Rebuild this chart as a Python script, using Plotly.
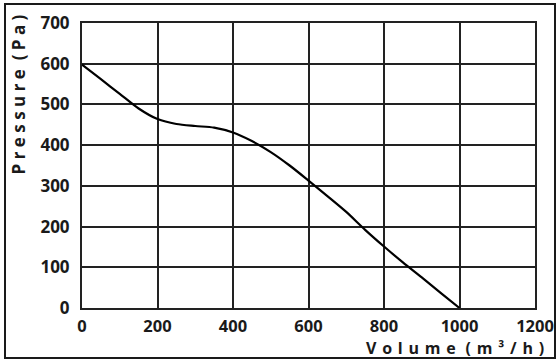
import plotly.graph_objects as go

volume = [0, 50, 100, 150, 200, 250, 300, 350, 400, 450, 500, 550, 600, 650, 700, 750, 800, 850, 900, 950, 1000]
pressure = [598, 562, 526, 490, 464, 452, 447, 443, 431, 410, 383, 350, 313, 275, 236, 192, 151, 112, 75, 37, 0]

x_ticks = [0, 200, 400, 600, 800, 1000, 1200]
y_ticks = [0, 100, 200, 300, 400, 500, 600, 700]

font_family = "Open Sans"
grid_color = "#222222"

fig = go.Figure()
fig.add_trace(go.Scatter(
    x=volume, y=pressure, mode="lines",
    line=dict(color="black", width=2.2, shape="spline", smoothing=0.8),
    hoverinfo="skip", showlegend=False,
))

axis_common = dict(
    showgrid=True, gridcolor=grid_color, gridwidth=2,
    showline=True, linecolor=grid_color, linewidth=2, mirror=True,
    zeroline=False, ticks="",
    automargin=False,
)

fig.update_xaxes(range=[0, 1200], tickvals=x_ticks, ticktext=[str(v) for v in x_ticks],
                 ticklabelstandoff=2,
                 tickfont=dict(family=font_family, size=16.5, color="#1a1a1a", weight="bold"),
                 **axis_common)
fig.update_yaxes(range=[0, 700], tickvals=y_ticks, ticktext=[str(v) for v in y_ticks],
                 ticklabelstandoff=7,
                 tickfont=dict(family=font_family, size=17, color="#1a1a1a", weight="bold"),
                 **axis_common)

fig.add_annotation(
    text="P r e s s u r e  ( P a )", textangle=-90,
    xref="paper", yref="paper", x=-0.141, y=0.75,
    xanchor="center", yanchor="middle", showarrow=False,
    font=dict(family=font_family, size=17, color="#1a1a1a", weight="bold"),
)
H = "\u200a"
fig.add_annotation(
    text=(" " + H).join(list("Volume")) + "  " + H + (" " + H).join(["(", "m", "³", "/", "h", ")"]),
    xref="paper", yref="paper", x=1.024, y=-0.14,
    xanchor="right", yanchor="middle", showarrow=False,
    font=dict(family=font_family, size=16, color="#1a1a1a", weight="bold"),
)

# outer frame (empty bordered annotation box)
fig.add_annotation(
    text=" ", xref="paper", yref="paper",
    x=(280 - 82) / 453, y=(308 - 181) / 285,
    xanchor="center", yanchor="middle", showarrow=False,
    width=548, height=352, borderpad=0, borderwidth=2, bordercolor="#1a1a1a",
)

fig.update_layout(
    width=560, height=364,
    margin=dict(l=82, r=25, t=23, b=56, autoexpand=False),
    paper_bgcolor="white", plot_bgcolor="white",
)

fig.write_html("out.html", config={"displayModeBar": False},
               post_script="document.body.style.margin='0';")
